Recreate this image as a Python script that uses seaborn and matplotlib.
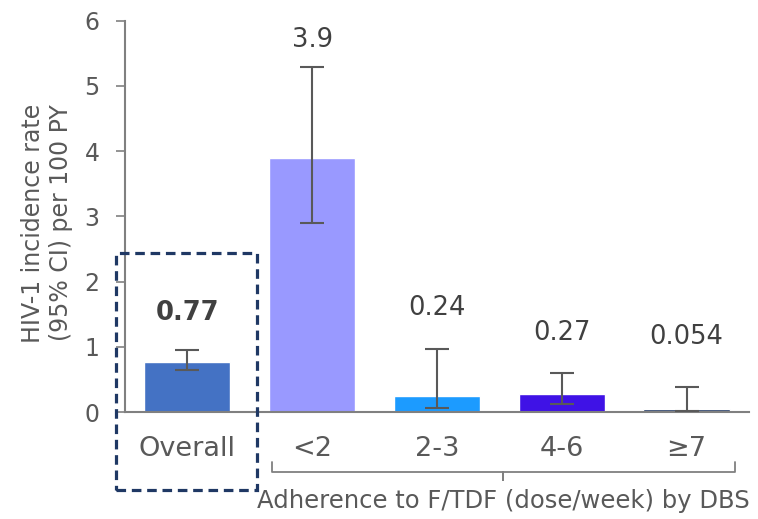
import matplotlib
matplotlib.use("Agg")
import matplotlib.pyplot as plt
import seaborn as sns
import pandas as pd
from matplotlib.patches import Rectangle
from matplotlib.lines import Line2D

# Incidence of HIV-1 by adherence group
categories = ["Overall", "<2", "2-3", "4-6", "≥7"]
rates = [0.77, 3.9, 0.24, 0.27, 0.054]
ci_low = [0.64, 2.9, 0.07, 0.12, 0.01]
ci_high = [0.95, 5.29, 0.97, 0.60, 0.39]
value_labels = ["0.77", "3.9", "0.24", "0.27", "0.054"]
y_ticks = [0, 1, 2, 3, 4, 5, 6]

bar_colors = ["#4472C4", "#9999FF", "#1C9BFF", "#3F12E6", "#203864"]
label_offsets_pt = [27, 19.5, 29.5, 29, 36]

sns.set_style("white")
plt.rcParams["font.family"] = ["DejaVu Sans"]

text_grey = "#595959"
axis_grey = "#808080"

df = pd.DataFrame({"group": categories, "rate": rates})

fig = plt.figure(figsize=(7.58, 5.19), dpi=100)
ax = fig.add_axes([0.165, 0.206, 0.823, 0.754])

sns.barplot(data=df, x="group", y="rate", hue="group", palette=bar_colors,
            saturation=1, width=0.69, errorbar=None, legend=False, ax=ax)

x_pos = list(range(len(categories)))
lower_err = [r - lo for r, lo in zip(rates, ci_low)]
upper_err = [hi - r for r, hi in zip(rates, ci_high)]
ax.errorbar(x_pos, rates, yerr=[lower_err, upper_err], fmt="none",
            ecolor=text_grey, elinewidth=1.5, capsize=8.4, capthick=1.5, zorder=3)

for i, (txt, top, off) in enumerate(zip(value_labels, ci_high, label_offsets_pt)):
    ax.annotate(txt, xy=(i, top), xytext=(0, off), textcoords="offset points",
                ha="center", va="center", fontsize=18.5, color="#404040",
                fontweight="bold" if i == 0 else "normal")

ax.set_xlim(-0.5, 4.5)
ax.set_ylim(0, 6)
ax.set_yticks(y_ticks)
ax.set_yticklabels([str(t) for t in y_ticks])

for side in ("top", "right"):
    ax.spines[side].set_visible(False)
for side in ("left", "bottom"):
    ax.spines[side].set_color(axis_grey)
    ax.spines[side].set_linewidth(1.5)

ax.tick_params(axis="y", which="major", left=True, length=6.5, width=1.2,
               color=axis_grey, pad=12, labelsize=17, labelcolor=text_grey)
ax.tick_params(axis="x", which="major", bottom=False, length=0, pad=17,
               labelsize=19.5, labelcolor=text_grey)

ax.set_xlabel("")
ax.set_ylabel("HIV-1 incidence rate\n(95% CI) per 100 PY", fontsize=17,
              color=text_grey, linespacing=1.25)
ax.yaxis.set_label_coords(-0.083, 0.483)

# dashed box around the overall group
box = Rectangle((-0.57, -1.20), 1.13, 3.64, fill=False, edgecolor="#1F3864",
                linewidth=2.3, linestyle=(0, (3, 1.8)), clip_on=False, zorder=5)
ax.add_patch(box)

# bracket under the adherence groups
bx0, bx1, bmid = 0.675, 4.39, 2.53
y_top, y_bot, y_tip = -0.77, -0.92, -1.04
bracket_x = [bx0, bx0, bmid, bmid, bmid, bx1, bx1]
bracket_y = [y_top, y_bot, y_bot, y_tip, y_bot, y_bot, y_top]
ax.add_line(Line2D(bracket_x, bracket_y, color=axis_grey, linewidth=1.3,
                   clip_on=False))

ax.text(bmid, -1.37, "Adherence to F/TDF (dose/week) by DBS", ha="center",
        va="center", fontsize=17.5, color=text_grey, clip_on=False)

fig.savefig("out.png", dpi=100)
